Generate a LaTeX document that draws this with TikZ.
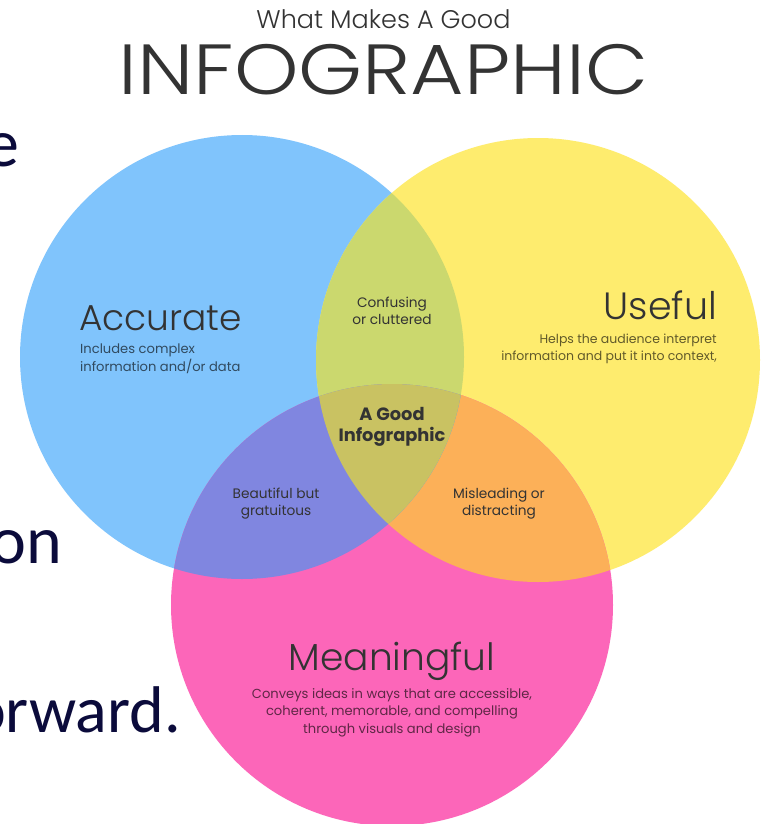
\documentclass[tikz,border=0pt]{standalone}
\usepackage{fontspec}
\setmainfont{Poppins}
\newfontfamily\popl{Poppins Light}
\newfontfamily\carl{Carlito}
\definecolor{cblue}{HTML}{80C4FC}
\definecolor{cyellow}{HTML}{FEEC6E}
\definecolor{cpink}{HTML}{FC66B9}
\definecolor{cby}{HTML}{CBD86E}
\definecolor{cbp}{HTML}{8086E0}
\definecolor{cyp}{HTML}{FCB058}
\definecolor{cctr}{HTML}{C9C262}
\definecolor{headgray}{HTML}{333333}
\definecolor{navy}{HTML}{0B0B3B}
\tikzset{
  bigtitle/.style={anchor=base, inner sep=0pt, text=headgray, font=\popl\fontsize{#1}{#1}\selectfont},
  desc/.style={anchor=base, inner sep=0pt, text=black, text opacity=0.62, font=\fontsize{13.1}{17.3}\selectfont},
  overlap/.style={anchor=base, inner sep=0pt, align=center, text=headgray, font=\fontsize{13.7}{16.8}\selectfont},
  slidetext/.style={anchor=base east, inner sep=0pt, text=navy, font=\carl\fontsize{#1}{#1}\selectfont}
}
\begin{document}
\begin{tikzpicture}[x=1pt,y=-1pt]
\useasboundingbox (0,0) rectangle (765,824);
\fill[white] (0,0) rectangle (765,824);
% partial slide text behind
\node[slidetext=68] (s1) at (20,166) {e};
\node[slidetext=68] (s2) at (62,563) {on};
\node[slidetext=66] (s3) at (181,732) {orward.};
% circles
\fill[cblue] (242,357) circle[radius=222pt];
\fill[cyellow] (538,360) circle[radius=222pt];
\fill[cpink] (392,605) circle[radius=221pt];
\begin{scope}
  \clip (538,360) circle[radius=222pt];
  \fill[cyp] (392,605) circle[radius=221pt];
\end{scope}
\begin{scope}
  \clip (242,357) circle[radius=222pt];
  \fill[cby] (538,360) circle[radius=222pt];
  \fill[cbp] (392,605) circle[radius=221pt];
  \clip (538,360) circle[radius=222pt];
  \fill[cctr] (392,605) circle[radius=221pt];
\end{scope}
% titles
\node[bigtitle=25.5] (t1) at (383.5,29) {What Makes A Good};
\node[bigtitle=71] (t2) at (383.5,95) {\scalebox{1.155}[1]{INFOGRAPHIC}};
% Accurate
\node[bigtitle=36, anchor=base west] (acc) at (79,330) {Accurate};
\node[desc, anchor=base west, align=left] (accd) at (80,371) {Includes complex\\information and/or data};
% Useful
\node[bigtitle=38, anchor=base east] (use) at (717,319) {Useful};
\node[desc, font=\fontsize{12.5}{17}\selectfont, anchor=base east, align=right] (used) at (717,360) {Helps the audience interpret\\information and put it into context,};
% Meaningful
\node[bigtitle=37.6] (mea) at (392,670) {Meaningful};
\node[desc, font=\fontsize{13.1}{17.5}\selectfont, align=center] (mead) at (392,733) {Conveys ideas in ways that are accessible,\\coherent, memorable, and compelling\\through visuals and design};
% overlaps
\node[overlap] (conf) at (392,324) {Confusing\\or cluttered};
\node[overlap, font=\bfseries\fontsize{17.8}{21}\selectfont] (good) at (392,441) {A Good\\Infographic};
\node[overlap] (beau) at (276,515) {Beautiful but\\gratuitous};
\node[overlap] (misl) at (499,515) {Misleading or\\distracting};
\end{tikzpicture}
\end{document}
